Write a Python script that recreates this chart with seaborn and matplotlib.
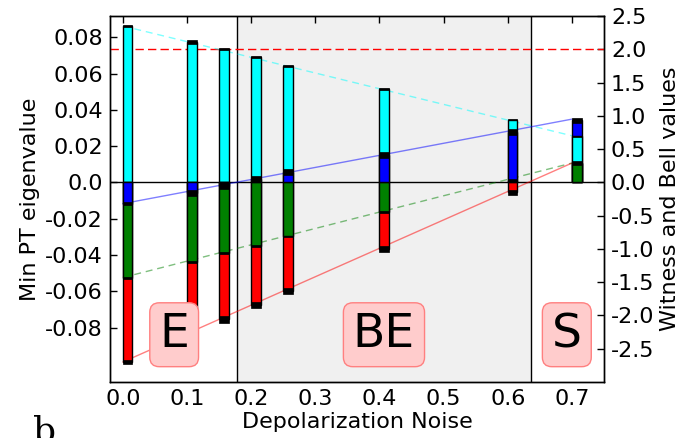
import numpy as np
import matplotlib
matplotlib.use("Agg")
import matplotlib.pyplot as plt
import seaborn as sns

# ---------------- data (right-axis units) ----------------
noise = [0.0, 0.1, 0.15, 0.2, 0.25, 0.4, 0.6, 0.7]
red_vals = [-2.70, -2.29, -2.06, -1.85, -1.63, -1.00, -0.15, 0.29]
green_vals = [-1.43, -1.19, -1.06, -0.95, -0.81, -0.45, 0.025, 0.29]
blue_vals = [-0.32, -0.16, -0.05, 0.05, 0.15, 0.41, 0.75, 0.93]
cyan_vals = [2.35, 2.11, 2.01, 1.89, 1.75, 1.41, 0.94, 0.69]

red_err = [0.035, 0.04, 0.05, 0.045, 0.045, 0.045, 0.04, 0.01]
green_err = [0.015, 0.015, 0.01, 0.015, 0.01, 0.015, 0.025, 0.025]
blue_err = [0.02, 0.045, 0.05, 0.045, 0.045, 0.045, 0.045, 0.037]
cyan_err = [0.015, 0.025, 0.015, 0.015, 0.01, 0.015, 0.01, 0.01]

fit_x = [0.0, 0.7]
red_fit = [-2.70, 0.29]
green_fit = [-1.43, 0.29]
blue_fit = [-0.32, 0.95]
cyan_fit = [2.35, 0.70]

bell_limit = 2.0
region_edges = [0.178, 0.636]
region_labels = ["E", "BE", "S"]
region_label_x = [0.08, 0.407, 0.692]
region_label_y = -2.29

left_ticks = [-0.08, -0.06, -0.04, -0.02, 0.0, 0.02, 0.04, 0.06, 0.08]
left_ticklabels = ["-0.08", "-0.06", "-0.04", "-0.02", "0.0", "0.02", "0.04", "0.06", "0.08"]
right_ticks = [-2.5, -2.0, -1.5, -1.0, -0.5, 0.0, 0.5, 1.0, 1.5, 2.0, 2.5]
right_ticklabels = ["-2.5", "-2.0", "-1.5", "-1.0", "-0.5", "0.0", "0.5", "1.0", "1.5", "2.0", "2.5"]
x_ticks = [0.0, 0.1, 0.2, 0.3, 0.4, 0.5, 0.6, 0.7]
x_ticklabels = ["0.0", "0.1", "0.2", "0.3", "0.4", "0.5", "0.6", "0.7"]

# ---------------- style ----------------
sns.set_theme(style="white")
plt.rcParams["font.family"] = ["DejaVu Sans"]
plt.rcParams["axes.edgecolor"] = "black"
plt.rcParams["axes.linewidth"] = 1.0
plt.rcParams["text.color"] = "black"
plt.rcParams["axes.labelcolor"] = "black"
plt.rcParams["xtick.color"] = "black"
plt.rcParams["ytick.color"] = "black"

fig = plt.figure(figsize=(6.85, 4.38), dpi=100)
ax = fig.add_axes([0.1606, 0.1279, 0.7212, 0.8356])
ax2 = ax.twinx()

ax.set_xlim(-0.02, 0.75)
ax.set_ylim(-0.11, 0.0917)
ax2.set_ylim(-3.0, 2.5)

# shaded bound-entangled region and its borders
ax.axvspan(region_edges[0], region_edges[1], color="0.94", zorder=0, lw=0)
for xe in region_edges:
    ax.axvline(xe, color="black", lw=1.0, zorder=1)

# zero line and Bell limit
ax2.axhline(0.0, color="black", lw=1.0, zorder=1)
ax2.axhline(bell_limit, color="red", lw=1.0, linestyle=(0, (6, 3)), zorder=1)

# fit lines
sns.lineplot(x=fit_x, y=cyan_fit, ax=ax2, color="cyan", alpha=0.5, lw=1.0,
             linestyle=(0, (5, 3.5)), zorder=2)
sns.lineplot(x=fit_x, y=blue_fit, ax=ax2, color="blue", alpha=0.5, lw=1.0, zorder=2)
sns.lineplot(x=fit_x, y=green_fit, ax=ax2, color="green", alpha=0.5, lw=1.0,
             linestyle=(0, (5, 3.5)), zorder=2)
sns.lineplot(x=fit_x, y=red_fit, ax=ax2, color="red", alpha=0.5, lw=1.0, zorder=2)

# bars: at each noise level draw the series from largest |value| to smallest
width = 0.015
series = [
    ("red", red_vals, red_err),
    ("green", green_vals, green_err),
    ("blue", blue_vals, blue_err),
    ("cyan", cyan_vals, cyan_err),
]
colors = {"red": "#ff0000", "green": "#008000", "blue": "#0000ff", "cyan": "#00ffff"}
for i, xv in enumerate(noise):
    items = sorted(series, key=lambda s: -abs(s[1][i]))
    z = 3
    for name, vals, errs in items:
        ax2.bar([xv], [vals[i]], width=width, align="edge", color=colors[name],
                edgecolor="black", linewidth=1.0, zorder=z)
        ax2.bar([xv], [2 * errs[i]], bottom=[vals[i] - errs[i]], width=width,
                align="edge", color="black", edgecolor="black", linewidth=0.5,
                zorder=z + 0.5)
        z += 1

# region labels
for lab, lx in zip(region_labels, region_label_x):
    ax2.text(lx, region_label_y, lab, fontsize=34, ha="center", va="center",
             color="black", zorder=20,
             bbox=dict(boxstyle="round,pad=0.2", fc=(1.0, 0.8, 0.8), ec=(1.0, 0.5, 0.5)))

# ticks & labels
ax.set_xticks(x_ticks)
ax.set_xticklabels(x_ticklabels)
ax.set_yticks(left_ticks)
ax.set_yticklabels(left_ticklabels)
ax2.set_yticks(right_ticks)
ax2.set_yticklabels(right_ticklabels)

ax.tick_params(direction="in", top=True, right=False, length=5, width=1,
               labelsize=16, colors="black", pad=5)
ax2.tick_params(direction="in", length=5, width=1, labelsize=16, colors="black", pad=5)

ax.set_xlabel("Depolarization Noise", fontsize=16, labelpad=2, color="black")
ax.set_ylabel("Min PT eigenvalue", fontsize=16, labelpad=4, color="black")
ax2.set_ylabel("Witness and Bell values", fontsize=16, labelpad=4, color="black")

for a in (ax, ax2):
    for s in a.spines.values():
        s.set_color("black")
        s.set_linewidth(1.0)

fig.text(33 / 685, 1 - 415 / 438, "b", fontsize=26, family="DejaVu Serif",
         va="top", ha="left", color="black")

fig.savefig("out.png", dpi=100)
